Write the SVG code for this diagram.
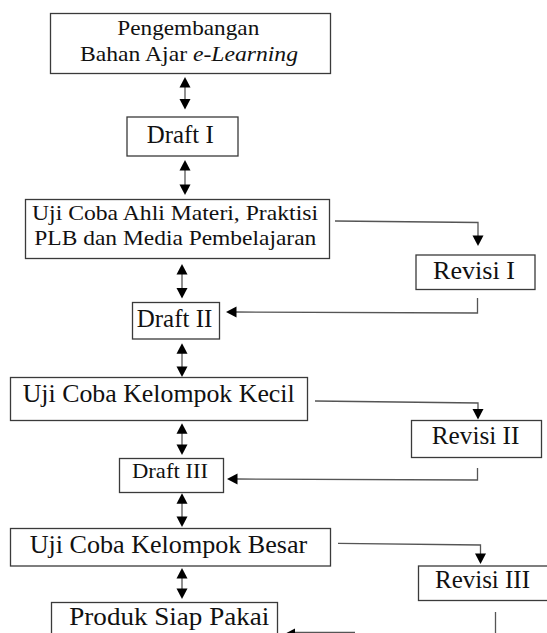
<svg xmlns="http://www.w3.org/2000/svg" width="547" height="633" viewBox="0 0 547 633">
<style>
.box{fill:#fff;stroke:#3a3a3a;stroke-width:1.3}
.t{font-family:"Liberation Serif","Times New Roman",serif;fill:#111}
.ln{fill:none;stroke:#555;stroke-width:1.3}
.hd{fill:#000}
</style>
<defs>
<path id="up" d="M0,0 L-5.5,10.5 L5.5,10.5 Z"/>
<path id="dn" d="M0,0 L-5.5,-10.5 L5.5,-10.5 Z"/>
<path id="lf" d="M0,0 L10.5,-5.5 L10.5,5.5 Z"/>
</defs>
<rect width="547" height="633" fill="#fff"/>
<g id="connectors">
  <g id="a1"><line class="ln" x1="185" y1="86" x2="185" y2="100"/><use href="#up" x="185" y="77" class="hd"/><use href="#dn" x="185" y="109.5" class="hd"/></g>
  <g id="a2"><line class="ln" x1="185" y1="169" x2="185" y2="186"/><use href="#up" x="185" y="160" class="hd"/><use href="#dn" x="185" y="195" class="hd"/></g>
  <g id="a3"><line class="ln" x1="182" y1="273" x2="182" y2="289"/><use href="#up" x="182" y="264" class="hd"/><use href="#dn" x="182" y="298.5" class="hd"/></g>
  <g id="a4"><line class="ln" x1="182" y1="352" x2="182" y2="368"/><use href="#up" x="182" y="343.3" class="hd"/><use href="#dn" x="182" y="377" class="hd"/></g>
  <g id="a5"><line class="ln" x1="182" y1="432" x2="182" y2="446"/><use href="#up" x="182" y="423.3" class="hd"/><use href="#dn" x="182" y="455" class="hd"/></g>
  <g id="a6"><line class="ln" x1="182" y1="502" x2="182" y2="518"/><use href="#up" x="182" y="493.3" class="hd"/><use href="#dn" x="182" y="527" class="hd"/></g>
  <g id="a7"><line class="ln" x1="182" y1="577" x2="182" y2="590"/><use href="#up" x="182" y="568" class="hd"/><use href="#dn" x="182" y="599" class="hd"/></g>
  <g id="c1"><polyline class="ln" points="335,221 478,222.5 478,237"/><use href="#dn" x="478" y="246" class="hd"/></g>
  <g id="r1"><polyline class="ln" points="477.5,298 477.5,313 236,312"/><use href="#lf" x="226" y="312" class="hd"/></g>
  <g id="c2"><polyline class="ln" points="315,401 478,403 478,410"/><use href="#dn" x="478" y="419.5" class="hd"/></g>
  <g id="r2"><polyline class="ln" points="477.5,468 477.5,480 237,479"/><use href="#lf" x="227" y="479" class="hd"/></g>
  <g id="c3"><polyline class="ln" points="338,543.3 480.5,545 480.5,555"/><use href="#dn" x="480.5" y="564" class="hd"/></g>
  <g id="r3"><line class="ln" x1="495.5" y1="612" x2="495.5" y2="640"/></g>
  <g id="r3b"><line class="ln" x1="292" y1="632.5" x2="355" y2="632.5"/><use href="#lf" x="284.5" y="634" class="hd"/></g>
</g>
<g id="n1"><rect class="box" x="50.5" y="13.5" width="280" height="60"/>
  <text class="t" font-size="22" x="117.3" y="35" textLength="142" lengthAdjust="spacingAndGlyphs">Pengembangan</text>
  <text class="t" font-size="22" x="80" y="61" textLength="218" lengthAdjust="spacingAndGlyphs">Bahan Ajar <tspan font-style="italic">e-Learning</tspan></text></g>
<g id="n2"><rect class="box" x="127" y="117" width="111" height="39"/>
  <text class="t" font-size="25" x="146.7" y="143" textLength="67" lengthAdjust="spacingAndGlyphs">Draft I</text></g>
<g id="n3"><rect class="box" x="25.5" y="199.5" width="304" height="59"/>
  <text class="t" font-size="21" x="32" y="220" textLength="286" lengthAdjust="spacingAndGlyphs">Uji Coba Ahli Materi, Praktisi</text>
  <text class="t" font-size="21" x="34.3" y="245" textLength="282" lengthAdjust="spacingAndGlyphs">PLB dan Media Pembelajaran</text></g>
<g id="n4"><rect class="box" x="416" y="255" width="119" height="34.5"/>
  <text class="t" font-size="25" x="433" y="279" textLength="82" lengthAdjust="spacingAndGlyphs">Revisi I</text></g>
<g id="n5"><rect class="box" x="132.5" y="302.5" width="87" height="36.5"/>
  <text class="t" font-size="25" x="136.7" y="327" textLength="75.6" lengthAdjust="spacingAndGlyphs">Draft II</text></g>
<g id="n6"><rect class="box" x="10.5" y="377.5" width="297" height="43"/>
  <text class="t" font-size="26" x="22.7" y="402" textLength="272" lengthAdjust="spacingAndGlyphs">Uji Coba Kelompok Kecil</text></g>
<g id="n7"><rect class="box" x="411.5" y="420.5" width="130" height="37"/>
  <text class="t" font-size="25" x="431.7" y="444" textLength="87.7" lengthAdjust="spacingAndGlyphs">Revisi II</text></g>
<g id="n8"><rect class="box" x="119.5" y="458.5" width="104" height="34"/>
  <text class="t" font-size="21" x="132" y="478" textLength="76" lengthAdjust="spacingAndGlyphs">Draft III</text></g>
<g id="n9"><rect class="box" x="10.5" y="528.5" width="320" height="37.5"/>
  <text class="t" font-size="26" x="29.7" y="553" textLength="277.6" lengthAdjust="spacingAndGlyphs">Uji Coba Kelompok Besar</text></g>
<g id="n10"><rect class="box" x="418.5" y="566" width="140" height="34.5"/>
  <text class="t" font-size="25" x="435" y="587.5" textLength="95" lengthAdjust="spacingAndGlyphs">Revisi III</text></g>
<g id="n11"><rect class="box" x="51.5" y="602.5" width="226" height="50"/>
  <text class="t" font-size="25" x="69.3" y="625" textLength="200" lengthAdjust="spacingAndGlyphs">Produk Siap Pakai</text></g>
</svg>
